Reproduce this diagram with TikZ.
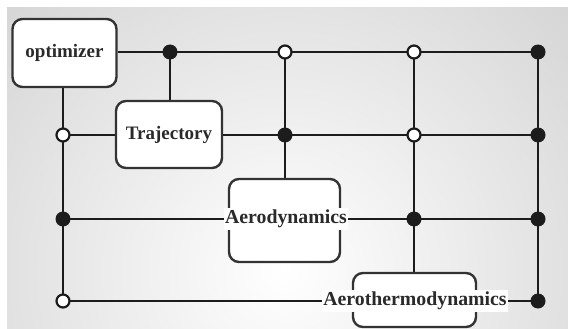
\documentclass[tikz,border=0pt]{standalone}
\usepackage{fontspec}
\setmainfont{Liberation Serif}
\definecolor{wirec}{HTML}{1C1C1C}
\definecolor{txtc}{HTML}{2A2A2A}
\definecolor{bgc}{HTML}{B0B0B0}
\pgfdeclarelayer{bg}
\pgfdeclarelayer{wires}
\pgfsetlayers{bg,wires,main}
\begin{document}
\begin{tikzpicture}[x=1pt,y=-1pt,
  wire/.style={line width=2.7pt, draw=wirec},
  box/.style={draw=wirec!90, line width=2.4pt, rounded corners=10pt, fill=white, inner sep=0pt},
  lbl/.style={font=\fontsize{19}{22}\selectfont\bfseries, text=txtc, inner sep=1.5pt},
  biglbl/.style={lbl, font=\fontsize{19.8}{22}\selectfont\bfseries},
  full/.style={circle, fill=wirec, inner sep=0pt, minimum size=15pt},
  hollow/.style={circle, draw=wirec, fill=white, line width=2.2pt, inner sep=0pt, minimum size=13pt}]
\useasboundingbox (0,0) rectangle (568,329);

% soft grey backdrop
\begin{pgfonlayer}{bg}
  \fill[white] (0,0) rectangle (568,329);
  \begin{scope}
    \clip (7,8) rectangle (568,329);
    \shade[inner color=white, outer color=bgc] (285,270) circle (740);
  \end{scope}
\end{pgfonlayer}

% modules
\node[box, lbl, minimum width=104pt, minimum height=68pt] (opt) at (64.5,53) {optimizer};
\node[box, lbl, minimum width=106pt, minimum height=67pt] (traj) at (169,134.5) {Trajectory};
\node[box, minimum width=111pt, minimum height=83pt] (aero) at (284.5,220.5) {};
\node[biglbl, fill=white] (aerot) at (286,219) {Aerodynamics};
\node[box, minimum width=123pt, minimum height=54pt] (therm) at (414.5,300) {};
\node[biglbl, fill=white] (thermt) at (415,301) {Aerothermodynamics};

% junctions
\node[full]   (d11) at (170,52) {};
\node[hollow] (d12) at (285,52) {};
\node[hollow] (d13) at (414,52) {};
\node[full]   (d14) at (538,52) {};
\node[hollow] (d21) at (63,135) {};
\node[full]   (d22) at (285,135) {};
\node[hollow] (d23) at (414,135) {};
\node[full]   (d24) at (538,135) {};
\node[full]   (d31) at (63,219) {};
\node[full]   (d33) at (414,219) {};
\node[full]   (d34) at (538,219) {};
\node[hollow] (d41) at (63,301) {};
\node[full]   (d44) at (538,301) {};

% connections
\begin{pgfonlayer}{wires}
  \draw[wire] (opt.east |- d14) -- (d14.center);
  \draw[wire] (d21.center) -- (d24.center);
  \draw[wire] (d31.center) -- (d34.center);
  \draw[wire] (d41.center) -- (d44.center);
  \draw[wire] (opt.south -| d21) -- (d41.center);
  \draw[wire] (d11.center) -- (d11 |- traj.north);
  \draw[wire] (d12.center) -- (d12 |- aero.north);
  \draw[wire] (d13.center) -- (d13 |- therm.north);
  \draw[wire] (d14.center) -- (d44.center);
\end{pgfonlayer}
\end{tikzpicture}
\end{document}
